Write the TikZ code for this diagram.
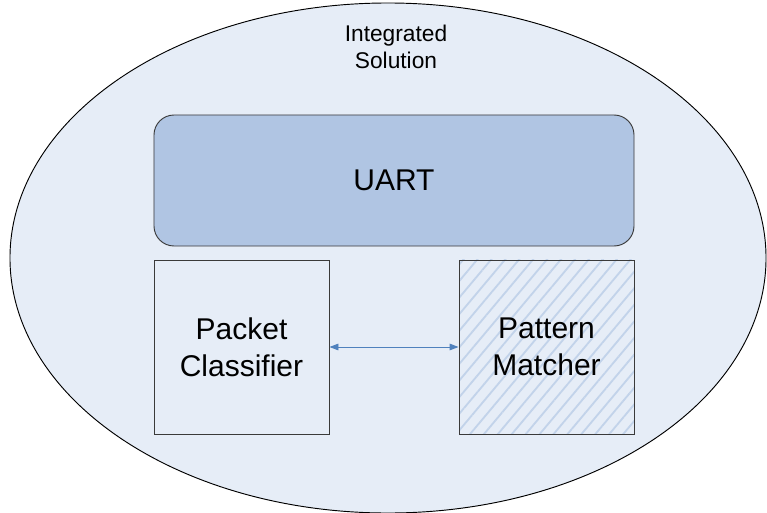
\documentclass[tikz,border=0pt]{standalone}
\usepackage{fontspec}
\setmainfont{Liberation Sans}
\usetikzlibrary{arrows.meta,patterns.meta}
\definecolor{shellfill}{HTML}{E6EDF7}
\definecolor{uartfill}{HTML}{B0C5E3}
\definecolor{stripeblue}{HTML}{C2D3EA}
\definecolor{edgegray}{HTML}{3A3A3A}
\definecolor{linkblue}{HTML}{4F81BD}
\tikzset{
  block/.style={draw=edgegray, line width=0.8pt, minimum width=5.25cm, minimum height=5.22cm,
    align=center, font=\fontsize{25.6}{31.6}\selectfont},
  link/.style={draw=linkblue, line width=0.8pt, {Triangle[length=0.27cm,width=0.2cm]}-{Triangle[length=0.27cm,width=0.2cm]}}
}
\begin{document}
\begin{tikzpicture}[x=0.03cm,y=-0.03cm]
  \useasboundingbox (0,0) rectangle (767,513);
  \clip (0,0) rectangle (767,513);

  % outer solution
  \draw[fill=shellfill, draw=black, line width=0.8pt] (388,258) ellipse [x radius=11.34cm, y radius=7.65cm];
  \node[align=center, font=\fontsize{19.4}{22.6}\selectfont] (title) at (396,47) {Integrated\\Solution};

  % blocks
  \node[draw=edgegray, fill=uartfill, line width=0.8pt, rounded corners=0.6cm, minimum width=14.4cm, minimum height=3.93cm,
    font=\fontsize{25.6}{31.6}\selectfont] (uart) at (394,180.5) {UART};
  \node[block, fill=shellfill] (pc) at (241.5,347) {Packet\\Classifier};
  \node[block, pattern={Lines[angle=50,distance=0.32cm,line width=0.055cm]}, pattern color=stripeblue] (pmbg) at (546.5,347) {};
  \node[block] (pm) at (546.5,347) {Pattern\\Matcher};

  \draw[link] (pc) -- (pm);
\end{tikzpicture}
\end{document}
